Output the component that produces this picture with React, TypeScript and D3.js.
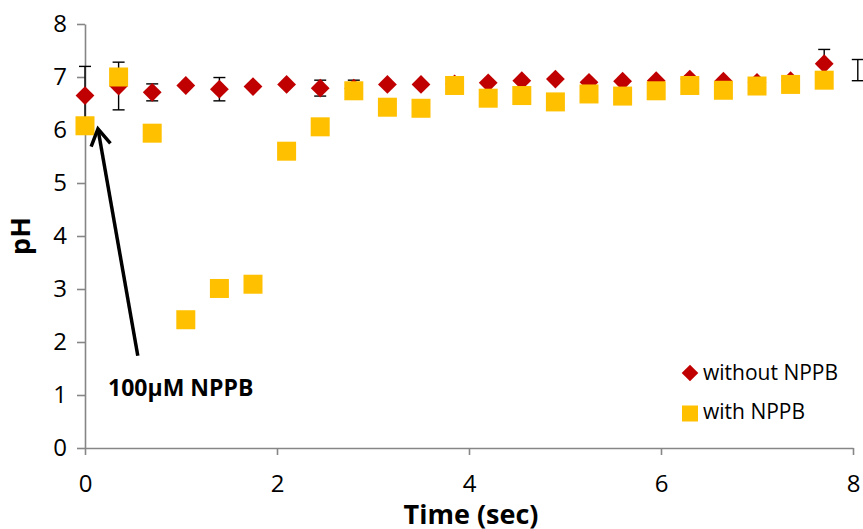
import React, { useEffect, useRef } from "react";
import * as d3 from "d3";

// time points (sec); the last one sits just past the axis end, only its error bar shows
const times = [0, 0.35, 0.7, 1.05, 1.4, 1.75, 2.1, 2.45, 2.8, 3.15, 3.5, 3.85, 4.2, 4.55, 4.9, 5.25, 5.6, 5.95, 6.3, 6.65, 7.0, 7.35, 7.7, 8.05];
const withoutNPPB = [6.65, 6.83, 6.71, 6.84, 6.77, 6.82, 6.86, 6.79, 6.79, 6.86, 6.86, 6.87, 6.89, 6.93, 6.96, 6.9, 6.92, 6.93, 6.96, 6.92, 6.9, 6.93, 7.25, 7.13];
const withoutErr = [0.55, 0.45, 0.16, 0, 0.22, 0, 0, 0.15, 0.15, 0, 0, 0, 0, 0, 0, 0, 0, 0, 0, 0, 0, 0, 0.27, 0.2];
const withNPPB: (number | null)[] = [6.08, 7.0, 5.94, 2.42, 3.01, 3.09, 5.6, 6.06, 6.74, 6.43, 6.41, 6.84, 6.6, 6.65, 6.53, 6.68, 6.64, 6.74, 6.84, 6.75, 6.83, 6.86, 6.94, null];

const xTicks = [0, 2, 4, 6, 8];
const yTicks = [0, 1, 2, 3, 4, 5, 6, 7, 8];
const seriesNames = ["without NPPB", "with NPPB"];

const RED = "#C00000";
const GOLD = "#FFC000";
const AXIS = "#868686";
const FONT = "'Open Sans', sans-serif";

export default function App() {
  const ref = useRef<SVGSVGElement>(null);
  const width = 863;
  const height = 529;

  useEffect(() => {
    const svg = d3.select(ref.current);
    svg.selectAll("*").remove();

    const x = d3.scaleLinear().domain([0, 8]).range([85, 853]);
    const y = d3.scaleLinear().domain([0, 8]).range([448, 24]);

    // axes
    const yAxis = svg
      .append("g")
      .attr("transform", `translate(${x(0)},0)`)
      .call(d3.axisLeft(y).tickValues(yTicks).tickSize(8).tickPadding(10).tickSizeOuter(0));
    const xAxis = svg
      .append("g")
      .attr("transform", `translate(0,${y(0)})`)
      .call(d3.axisBottom(x).tickValues(xTicks).tickSize(7).tickPadding(20).tickSizeOuter(0));
    [xAxis, yAxis].forEach((a) => {
      a.select(".domain").attr("stroke", AXIS).attr("stroke-width", 1.6);
      a.selectAll(".tick line").attr("stroke", AXIS).attr("stroke-width", 1.6);
      a.selectAll(".tick text")
        .attr("fill", "#000")
        .style("font-family", FONT)
        .style("font-size", "24px");
    });

    svg
      .append("text")
      .attr("x", 471)
      .attr("y", 524)
      .attr("text-anchor", "middle")
      .style("font-family", FONT)
      .style("font-size", "27px")
      .style("font-weight", "bold")
      .text("Time (sec)");

    svg
      .append("text")
      .attr("transform", "translate(30,236) rotate(-90)")
      .attr("text-anchor", "middle")
      .style("font-family", FONT)
      .style("font-size", "27px")
      .style("font-weight", "bold")
      .text("pH");

    const rows = times.map((t, i) => ({
      t,
      a: withoutNPPB[i],
      e: withoutErr[i],
      b: withNPPB[i],
    }));
    // markers past the axis end are not drawn, their error bars are
    const inside = rows.filter((d) => d.t <= 8);

    // error bars (behind markers)
    const eb = svg.append("g").attr("stroke", "#000").attr("stroke-width", 1.4);
    rows
      .filter((d) => d.e > 0)
      .forEach((d) => {
        const cx = x(d.t);
        const top = y(d.a + d.e);
        const bot = y(d.a - d.e);
        eb.append("line").attr("x1", cx).attr("x2", cx).attr("y1", top).attr("y2", bot);
        eb.append("line").attr("x1", cx - 6).attr("x2", cx + 6).attr("y1", top).attr("y2", top);
        eb.append("line").attr("x1", cx - 6).attr("x2", cx + 6).attr("y1", bot).attr("y2", bot);
      });

    const diamond = (r: number) => `M0,${-r}L${r},0L0,${r}L${-r},0Z`;

    svg
      .append("g")
      .selectAll("path")
      .data(inside)
      .enter()
      .append("path")
      .attr("d", diamond(9.4))
      .attr("transform", (d) => `translate(${x(d.t)},${y(d.a)})`)
      .attr("fill", RED);

    svg
      .append("g")
      .selectAll("rect")
      .data(inside.filter((d) => d.b !== null))
      .enter()
      .append("rect")
      .attr("x", (d) => x(d.t) - 9.5)
      .attr("y", (d) => y(d.b as number) - 9.5)
      .attr("width", 19)
      .attr("height", 19)
      .attr("fill", GOLD);

    // annotation arrow, in data units
    const tail: [number, number] = [0.55, 1.74];
    const tip: [number, number] = [0.135, 6.02];
    const tx = x(tip[0]);
    const ty = y(tip[1]);
    const ang = Math.atan2(y(tail[1]) - ty, x(tail[0]) - tx);
    const head = 19;
    const spread = (31 * Math.PI) / 180;
    svg
      .append("line")
      .attr("x1", x(tail[0]))
      .attr("y1", y(tail[1]))
      .attr("x2", tx)
      .attr("y2", ty)
      .attr("stroke", "#000")
      .attr("stroke-width", 3.5);
    svg
      .append("path")
      .attr(
        "d",
        `M${tx + head * Math.cos(ang - spread)},${ty + head * Math.sin(ang - spread)}L${tx},${ty}L${
          tx + head * Math.cos(ang + spread)
        },${ty + head * Math.sin(ang + spread)}`
      )
      .attr("fill", "none")
      .attr("stroke", "#000")
      .attr("stroke-width", 3.5);

    svg
      .append("text")
      .attr("x", x(0.24))
      .attr("y", y(0.99))
      .style("font-family", FONT)
      .style("font-size", "23px")
      .style("font-weight", "bold")
      .text("100\u03BCM NPPB");

    // legend
    const lg = svg.append("g");
    lg.append("path").attr("d", diamond(8.3)).attr("transform", "translate(690,373)").attr("fill", RED);
    lg.append("rect").attr("x", 682).attr("y", 405.5).attr("width", 16).attr("height", 16).attr("fill", GOLD);
    lg.selectAll("text")
      .data(seriesNames)
      .enter()
      .append("text")
      .attr("x", 703)
      .attr("y", (d, i) => 380 + i * 39)
      .style("font-family", FONT)
      .style("font-size", "21px")
      .text((d) => d);
  }, []);

  return (
    <svg
      ref={ref}
      width={width}
      height={height}
      style={{ position: "absolute", left: 0, top: 0, background: "white" }}
    />
  );
}
